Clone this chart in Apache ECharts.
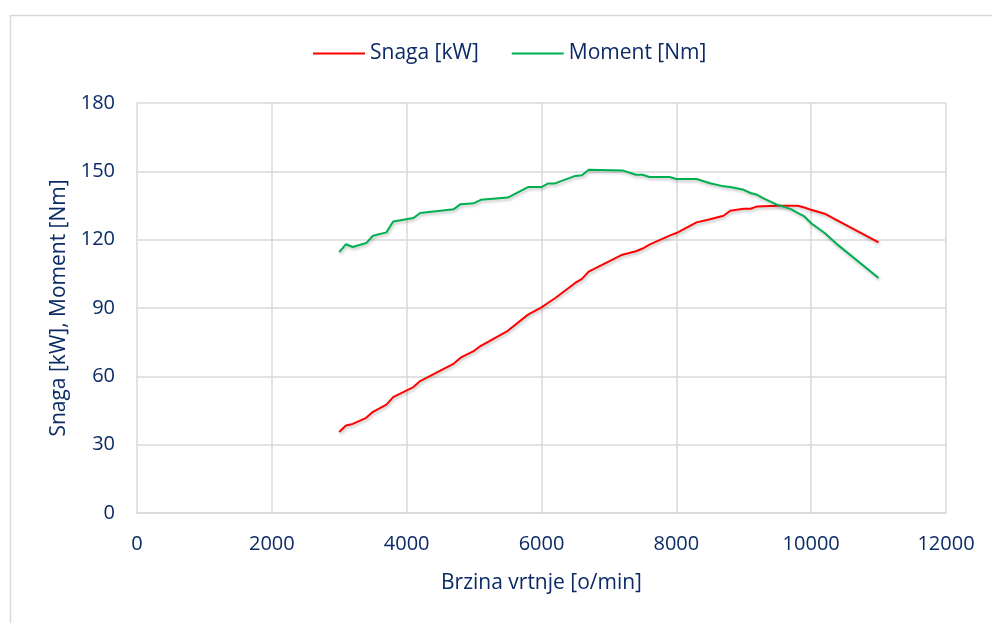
<!DOCTYPE html>
<html>
<head>
<meta charset="utf-8">
<script src="https://cdn.jsdelivr.net/npm/echarts@6/dist/echarts.min.js"></script>
<style>
html,body{margin:0;padding:0;background:#fff;}
#c{width:992px;height:623px;}
</style>
</head>
<body>
<div id="c"></div>
<script>
const rpm = [3000,3100,3200,3400,3500,3700,3800,4100,4200,4700,4800,5000,5100,5500,5800,6000,6100,6200,6500,6600,6700,7200,7400,7500,7600,7900,8000,8300,8500,8700,8800,9000,9100,9200,9300,9500,9700,9800,9900,10000,10200,10400,11000];
const snaga = [35.6,38.4,39.1,41.8,44.4,47.6,50.9,55.3,57.9,65.6,68.2,71.2,73.4,80.0,87.1,90.3,92.3,94.3,101.0,102.8,106.0,113.4,114.9,116.1,117.8,121.8,122.9,127.6,129.0,130.5,132.7,133.6,133.6,134.6,134.7,134.9,134.9,134.9,134.1,133.1,131.4,128.3,118.8];
const moment = [114.5,118.0,116.8,118.5,121.7,123.2,128.0,129.5,131.7,133.4,135.6,136.0,137.5,138.5,143.1,143.1,144.7,144.7,148.0,148.3,150.7,150.4,148.5,148.5,147.5,147.5,146.6,146.6,144.8,143.4,143.1,141.9,140.5,139.7,138.0,135.3,133.4,131.8,130.2,127.2,122.9,117.6,103.2];
const xTicks = [0,2000,4000,6000,8000,10000,12000];
const yTicks = [0,30,60,90,120,150,180];
const seriesNames = ['Snaga [kW]','Moment [Nm]'];
const xName = 'Brzina vrtnje [o/min]';
const yName = 'Snaga [kW], Moment [Nm]';

const txt = '#0b2a66';
const font = 'Open Sans';
const fs = 20;
const fsName = 21;
const pairs = v => rpm.map((r,i)=>[r,v[i]]);
const chart = echarts.init(document.getElementById('c'), null, {renderer:'canvas'});
const lineShadow = {shadowColor:'rgba(0,0,0,0.25)', shadowBlur:3, shadowOffsetX:1, shadowOffsetY:2};
chart.setOption({
  animation:false,
  backgroundColor:'#fff',
  textStyle:{fontFamily:font},
  graphic:[{type:'rect', left:8, top:13, shape:{width:1000, height:700}, style:{fill:'none', stroke:'#d9d9d9', lineWidth:1.5}, silent:true, z:-1}],
  legend:{
    left:313, top:43, padding:0, itemWidth:52, itemHeight:14, itemGap:33,
    icon:'path://M0,6 L52,6 L52,8 L0,8 Z',
    textStyle:{color:txt, fontSize:fsName, fontFamily:font},
    data:seriesNames
  },
  grid:{left:137, right:46, top:103, bottom:110, containLabel:false},
  xAxis:{
    type:'value', min:xTicks[0], max:xTicks[xTicks.length-1], interval:2000,
    name:xName, nameLocation:'middle', nameGap:60,
    nameTextStyle:{color:txt, fontSize:fsName, fontFamily:font},
    axisLine:{show:true, lineStyle:{color:'#d9d9d9', width:1.5}},
    axisTick:{show:false},
    axisLabel:{color:txt, fontSize:fs, margin:21, fontFamily:font, formatter:v=>String(v)},
    splitLine:{show:true, lineStyle:{color:'#d9d9d9', width:1.5}}
  },
  yAxis:{
    type:'value', min:yTicks[0], max:yTicks[yTicks.length-1], interval:30,
    name:yName, nameLocation:'middle', nameGap:59,
    nameTextStyle:{color:txt, fontSize:fsName, fontFamily:font},
    axisLine:{show:false},
    axisTick:{show:false},
    axisLabel:{color:txt, fontSize:fs, margin:22, fontFamily:font},
    splitLine:{show:true, lineStyle:{color:'#d9d9d9', width:1.5}}
  },
  series:[
    {name:seriesNames[0], type:'line', data:pairs(snaga), showSymbol:false, symbol:'none',
     itemStyle:{color:'#ff0000'}, lineStyle:Object.assign({color:'#ff0000', width:2}, lineShadow)},
    {name:seriesNames[1], type:'line', data:pairs(moment), showSymbol:false, symbol:'none',
     itemStyle:{color:'#00b050'}, lineStyle:Object.assign({color:'#00b050', width:2}, lineShadow)}
  ]
});
</script>
</body>
</html>
